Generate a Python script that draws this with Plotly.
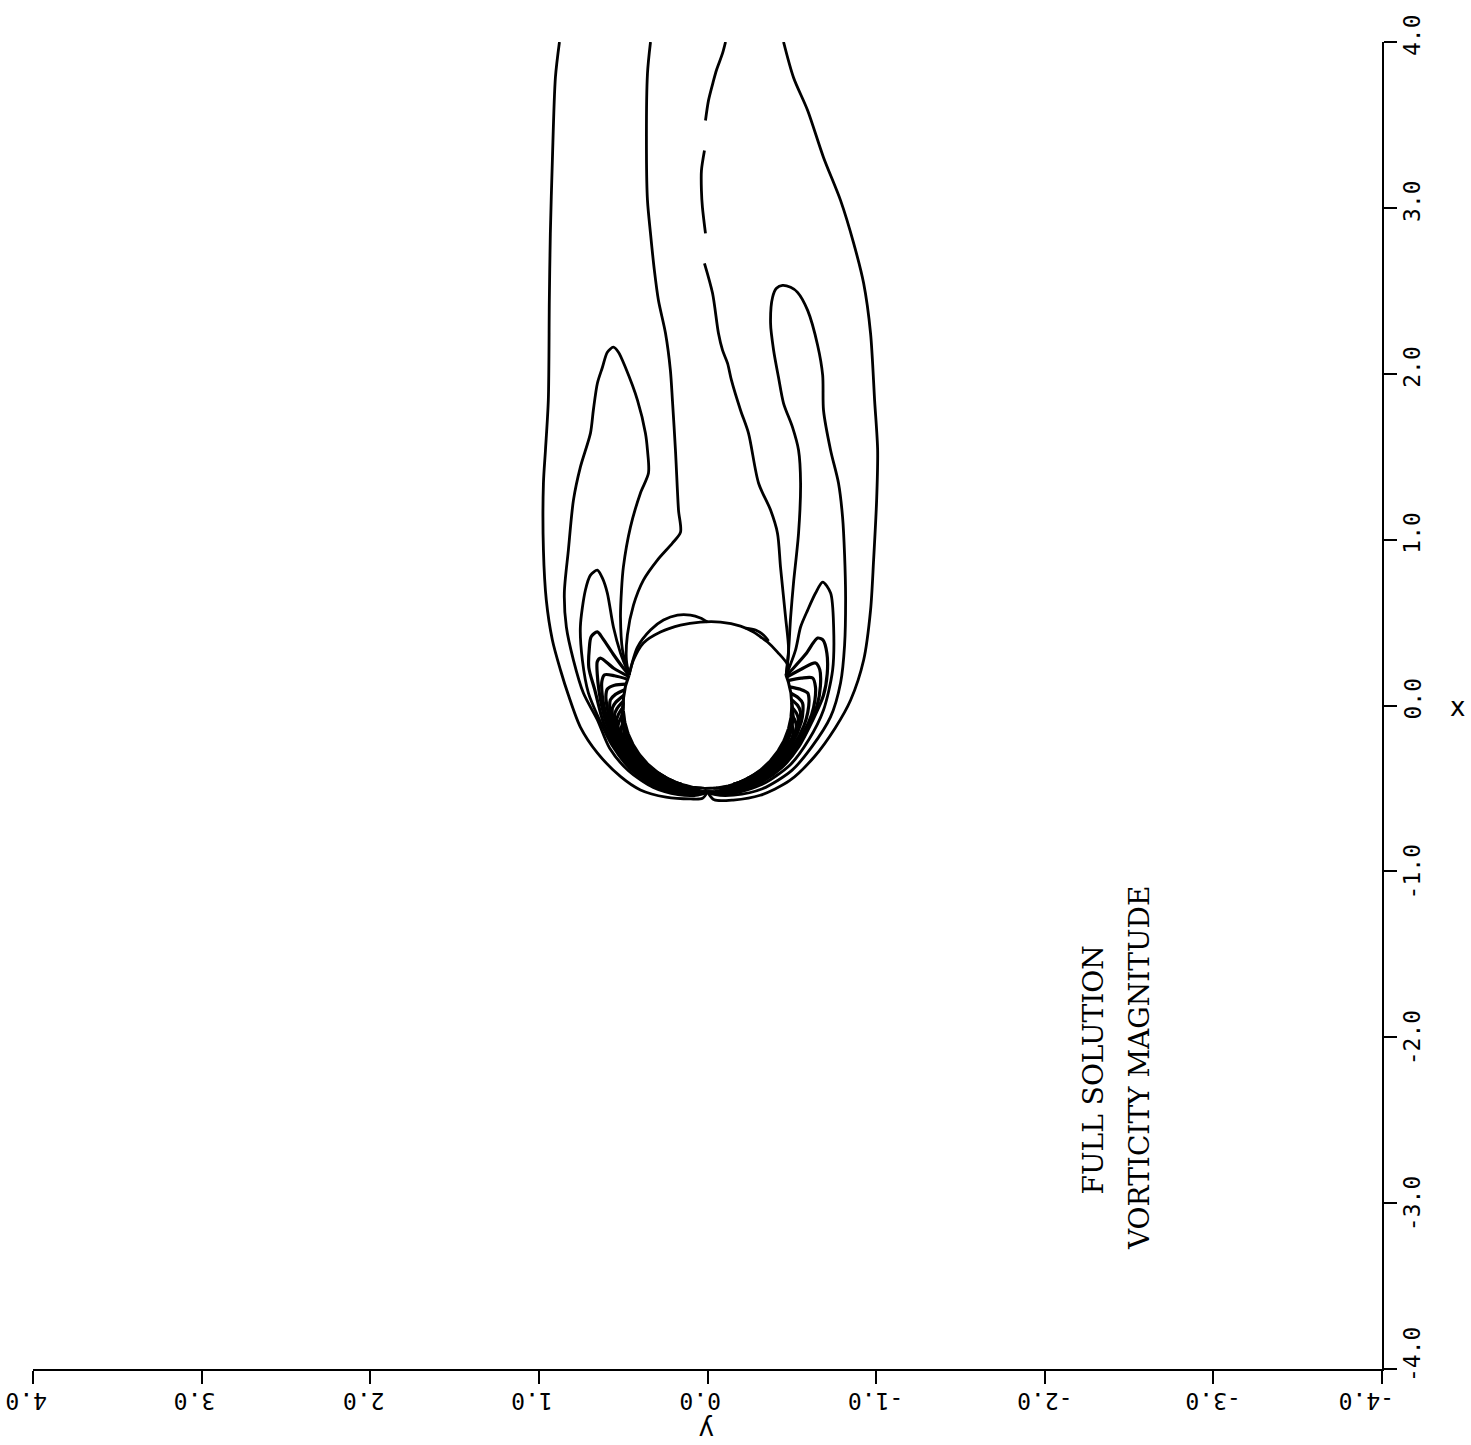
import numpy as np
import plotly.graph_objects as go

# ---------------------------------------------------------------
# Axis ticks (x runs up the right edge, y runs along the bottom)
# ---------------------------------------------------------------
tick_vals = [-4.0, -3.0, -2.0, -1.0, 0.0, 1.0, 2.0, 3.0, 4.0]
tick_text = ["-4.0", "-3.0", "-2.0", "-1.0", "0.0", "1.0", "2.0", "3.0", "4.0"]

body_radius = 0.5

# separation points on the body surface (y, x)
sep_left = (0.465, 0.184)
sep_right = (-0.466, 0.180)

# ---------------------------------------------------------------
# Wake contours, cartesian (y, x)
# ---------------------------------------------------------------
# outermost contour, left branch (wake part)
outer_left_y = [0.878, 0.902, 0.920, 0.932, 0.938, 0.944, 0.961, 0.973, 0.973, 0.956, 0.920, 0.872, 0.825, 0.754]
outer_left_x = [4.0, 3.786, 3.286, 2.846, 2.443, 1.840, 1.539, 1.340, 0.937, 0.636, 0.395, 0.214, 0.063, -0.130]
outer_left_phi = [-23.6, -40.0, -52.0, -66.0, -80.0, -87.0, -90.0]
outer_left_r = [0.713, 0.670, 0.646, 0.605, 0.572, 0.560, 0.521]

# outermost contour, right branch (front part then wake part)
outer_right_phi = [-90.0, -86.0, -75.0, -60.0, -43.0, -26.0, -10.0]
outer_right_r = [0.521, 0.570, 0.590, 0.625, 0.665, 0.705, 0.770]
outer_right_y = [-0.849, -0.926, -0.967, -0.985, -1.003, -1.009, -0.991, -0.967, -0.926, -0.867, -0.789, -0.688, -0.594, -0.510, -0.451]
outer_right_x = [0.033, 0.274, 0.575, 0.876, 1.238, 1.539, 1.840, 2.244, 2.545, 2.786, 3.045, 3.304, 3.587, 3.786, 4.0]

# second contour from the left, ends at the left separation point
inner_left_y = [0.338, 0.356, 0.362, 0.356, 0.338, 0.315, 0.291, 0.249, 0.220, 0.208, 0.190, 0.172, 0.160, 0.208, 0.297, 0.380, 0.439, 0.475, 0.481, 0.465]
inner_left_x = [4.0, 3.810, 3.328, 3.045, 2.846, 2.623, 2.443, 2.244, 2.021, 1.840, 1.539, 1.178, 1.045, 0.979, 0.877, 0.756, 0.605, 0.425, 0.274, 0.184]

# centre-line contour, drawn in three pieces
centre_a_y = [-0.107, -0.089, -0.053, -0.036, -0.006, 0.012]
centre_a_x = [4.0, 3.931, 3.830, 3.768, 3.648, 3.527]
centre_b_y = [0.018, 0.036, 0.036, 0.030, 0.012]
centre_b_x = [3.346, 3.225, 3.105, 3.003, 2.846]
centre_c_y = [0.018, -0.030, -0.065, -0.089, -0.119, -0.142, -0.196, -0.243, -0.303, -0.374, -0.415, -0.433, -0.463, -0.481, -0.466]
centre_c_x = [2.666, 2.485, 2.244, 2.142, 2.063, 1.961, 1.780, 1.642, 1.340, 1.178, 1.039, 0.834, 0.533, 0.334, 0.180]

# large left lobe
lobe_left_y = [0.465, 0.504, 0.516, 0.510, 0.499, 0.457, 0.398, 0.350, 0.356, 0.368, 0.415, 0.487, 0.528, 0.558,
               0.594, 0.623, 0.653, 0.677, 0.694, 0.754, 0.795, 0.825, 0.849, 0.837, 0.795, 0.736, 0.653]
lobe_left_x = [0.184, 0.334, 0.533, 0.696, 0.834, 1.075, 1.280, 1.401, 1.539, 1.642, 1.840, 2.039, 2.130, 2.160,
               2.130, 2.039, 1.943, 1.780, 1.642, 1.437, 1.238, 0.937, 0.678, 0.473, 0.274, 0.075, -0.087]
lobe_left_phi = [-24.0, -40.0, -57.0, -72.0, -84.0, -90.0]
lobe_left_r = [0.635, 0.612, 0.590, 0.565, 0.543, 0.521]

# first small left lobe
small_left_y = [0.465, 0.516, 0.558, 0.594, 0.623, 0.653, 0.694, 0.724, 0.754, 0.742, 0.706, 0.639]
small_left_x = [0.184, 0.316, 0.473, 0.678, 0.768, 0.816, 0.786, 0.696, 0.473, 0.274, 0.075, -0.090]
small_left_phi = [-23.0, -40.0, -57.0, -72.0, -84.0, -90.0]
small_left_r = [0.615, 0.597, 0.580, 0.558, 0.538, 0.521]

# large right lobe
lobe_right_y = [-0.466, -0.481, -0.493, -0.510, -0.540, -0.552, -0.540, -0.504, -0.451, -0.421, -0.392, -0.374, -0.386, -0.409,
                -0.445, -0.493, -0.534, -0.594, -0.653, -0.683, -0.688, -0.730, -0.777, -0.801, -0.813, -0.819, -0.813, -0.789]
lobe_right_x = [0.180, 0.334, 0.533, 0.738, 1.039, 1.340, 1.539, 1.678, 1.822, 1.979, 2.142, 2.304, 2.461, 2.515,
                2.533, 2.521, 2.491, 2.382, 2.172, 1.991, 1.780, 1.539, 1.340, 1.136, 0.907, 0.654, 0.364, 0.136]
lobe_right_phi = [-5.4, -22.0, -38.0, -57.0, -74.0, -85.0, -90.0]
lobe_right_r = [0.733, 0.667, 0.635, 0.598, 0.562, 0.540, 0.521]

# first small right lobe
small_right_y = [-0.466, -0.522, -0.552, -0.594, -0.641, -0.683, -0.730, -0.748, -0.742, -0.688]
small_right_x = [0.180, 0.334, 0.473, 0.575, 0.678, 0.744, 0.678, 0.473, 0.214, -0.027]
small_right_phi = [-19.0, -36.0, -56.0, -75.0, -86.0, -90.0]
small_right_r = [0.635, 0.607, 0.575, 0.550, 0.533, 0.521]

# contours over the rear of the body
rear_y = [0.465, 0.439, 0.380, 0.279, 0.160, 0.042, -0.077, -0.196, -0.273, -0.315, -0.356, -0.415, -0.475, -0.466]
rear_x = [0.184, 0.274, 0.377, 0.443, 0.485, 0.503, 0.503, 0.479, 0.443, 0.413, 0.383, 0.322, 0.244, 0.180]
rear_bulge_y = [0.465, 0.415, 0.338, 0.261, 0.178, 0.101, 0.042, 0.0]
rear_bulge_x = [0.184, 0.352, 0.455, 0.515, 0.545, 0.545, 0.527, 0.503]
rear_blip_y = [-0.226, -0.285, -0.332, -0.362]
rear_blip_x = [0.467, 0.455, 0.425, 0.389]

# ---------------------------------------------------------------
# Near-wall arches, polar about the body centre:
# phi in degrees from the y axis towards +x, r in body units
# ---------------------------------------------------------------
arches_left = [
    ([21.6, 25, 29, 33, 34.2, 31, 26, 18, 8, -10, -25, -40, -55, -70, -82, -90],
     [0.5, 0.56, 0.64, 0.74, 0.79, 0.805, 0.78, 0.74, 0.675, 0.625, 0.60, 0.585, 0.57, 0.552, 0.535, 0.521]),
    ([20.5, 22, 24.2, 22, 16, 8, 0, -10, -25, -40, -55, -70, -82, -90],
     [0.5, 0.6, 0.696, 0.705, 0.68, 0.65, 0.628, 0.61, 0.588, 0.573, 0.56, 0.545, 0.531, 0.521]),
    ([18.5, 18, 16.8, 13, 6, -2, -10, -25, -40, -55, -70, -82, -90],
     [0.5, 0.58, 0.638, 0.643, 0.628, 0.61, 0.597, 0.577, 0.563, 0.551, 0.538, 0.527, 0.521]),
    ([15, 12.5, 9.5, 5, -2, -10, -25, -40, -55, -70, -82, -90],
     [0.5, 0.565, 0.602, 0.605, 0.594, 0.585, 0.567, 0.554, 0.543, 0.532, 0.524, 0.521]),
    ([11, 7, 3.3, -2, -10, -25, -40, -55, -70, -82, -90],
     [0.5, 0.55, 0.577, 0.58, 0.574, 0.557, 0.545, 0.535, 0.527, 0.522, 0.521]),
    ([7, 2, -1.5, -6, -12, -25, -40, -55, -70, -85],
     [0.5, 0.545, 0.564, 0.567, 0.563, 0.548, 0.537, 0.528, 0.52, 0.512]),
    ([3, -2, -5.9, -10, -16, -25, -40, -55, -70, -80],
     [0.5, 0.537, 0.555, 0.556, 0.552, 0.540, 0.530, 0.521, 0.513, 0.505]),
    ([-1, -6, -9.8, -14, -20, -28, -40, -55, -68, -76],
     [0.5, 0.532, 0.548, 0.549, 0.545, 0.535, 0.523, 0.514, 0.507, 0.501]),
    ([-5, -10, -13, -17, -23, -30, -40, -52, -64, -72],
     [0.5, 0.53, 0.545, 0.546, 0.541, 0.53, 0.517, 0.508, 0.503, 0.5]),
    ([-9, -14, -17, -21, -27, -35, -45, -57, -66],
     [0.5, 0.525, 0.539, 0.54, 0.533, 0.521, 0.51, 0.503, 0.5]),
    ([-13, -18, -21, -25, -31, -40, -50, -60],
     [0.5, 0.522, 0.534, 0.535, 0.527, 0.514, 0.505, 0.5]),
    # wall-hugging levels of the thin front layer
    ([2, -8, -20, -35, -50, -65, -78, -86],
     [0.5, 0.512, 0.52, 0.522, 0.52, 0.514, 0.507, 0.5]),
    ([-4, -14, -28, -44, -60, -72],
     [0.5, 0.508, 0.512, 0.512, 0.507, 0.5]),
]

arches_right = [
    ([21.1, 24, 28, 31.9, 30, 24, 15, 5, -8, -25, -40, -55, -70, -82, -90],
     [0.5, 0.56, 0.66, 0.769, 0.79, 0.775, 0.735, 0.69, 0.63, 0.595, 0.578, 0.562, 0.546, 0.531, 0.521]),
    ([20, 21.5, 21.8, 18, 10, 0, -10, -25, -40, -55, -70, -82, -90],
     [0.5, 0.6, 0.69, 0.7, 0.68, 0.65, 0.615, 0.583, 0.567, 0.553, 0.54, 0.528, 0.521]),
    ([17.5, 16.5, 14.9, 10, 3, -5, -15, -25, -40, -55, -70, -82, -90],
     [0.5, 0.58, 0.645, 0.65, 0.638, 0.62, 0.595, 0.575, 0.558, 0.546, 0.534, 0.525, 0.521]),
    ([13, 10, 7.2, 3, -4, -12, -25, -40, -55, -70, -85],
     [0.5, 0.56, 0.599, 0.603, 0.596, 0.585, 0.565, 0.55, 0.538, 0.528, 0.521]),
    ([8.5, 5, 1.5, -3, -10, -25, -40, -55, -70, -82],
     [0.5, 0.54, 0.564, 0.567, 0.565, 0.552, 0.54, 0.53, 0.521, 0.512]),
    ([4, 0, -4, -9, -15, -25, -40, -55, -70, -80],
     [0.5, 0.535, 0.553, 0.555, 0.551, 0.543, 0.531, 0.52, 0.51, 0.503]),
    ([-1, -5, -9.2, -14, -22, -32, -45, -60, -72],
     [0.5, 0.53, 0.547, 0.548, 0.542, 0.53, 0.516, 0.506, 0.5]),
    ([-6, -10, -14, -19, -26, -36, -48, -60, -68],
     [0.5, 0.528, 0.543, 0.544, 0.536, 0.522, 0.51, 0.503, 0.5]),
    ([-11, -15, -19, -23, -30, -40, -52, -62],
     [0.5, 0.524, 0.536, 0.537, 0.528, 0.514, 0.504, 0.5]),
    # wall-hugging levels of the thin front layer
    ([2, -8, -20, -35, -50, -65, -78, -86],
     [0.5, 0.512, 0.52, 0.522, 0.52, 0.514, 0.507, 0.5]),
    ([-4, -14, -28, -44, -60, -72],
     [0.5, 0.508, 0.512, 0.512, 0.507, 0.5]),
]


def wall_to_xy(phi_deg, r, side):
    """Polar wall coordinates -> (y, x); side=+1 on the y>0 half, -1 on the y<0 half."""
    t = np.radians(np.asarray(phi_deg, dtype=float))
    r = np.asarray(r, dtype=float)
    return side * r * np.cos(t), r * np.sin(t)


LINE = dict(color="black", width=2.8, shape="spline", smoothing=0.8)
WALL_LINE = dict(color="black", width=3.2, shape="spline", smoothing=0.8)
fig = go.Figure()


def add_curve(yv, xv, line=LINE):
    fig.add_trace(go.Scatter(x=list(yv), y=list(xv), mode="lines", line=line,
                             hoverinfo="skip", showlegend=False))


# outermost contour
fy, fx = wall_to_xy(outer_left_phi, outer_left_r, 1)
add_curve(np.concatenate([outer_left_y, fy]), np.concatenate([outer_left_x, fx]))
fy, fx = wall_to_xy(outer_right_phi, outer_right_r, -1)
add_curve(np.concatenate([fy, outer_right_y]), np.concatenate([fx, outer_right_x]))

# wake contours
add_curve(inner_left_y, inner_left_x)
add_curve(centre_a_y, centre_a_x)
add_curve(centre_b_y, centre_b_x)
add_curve(centre_c_y, centre_c_x)

for wy, wx, ph, rr, side in [
    (lobe_left_y, lobe_left_x, lobe_left_phi, lobe_left_r, 1),
    (small_left_y, small_left_x, small_left_phi, small_left_r, 1),
    (lobe_right_y, lobe_right_x, lobe_right_phi, lobe_right_r, -1),
    (small_right_y, small_right_x, small_right_phi, small_right_r, -1),
]:
    fy, fx = wall_to_xy(ph, rr, side)
    add_curve(np.concatenate([wy, fy]), np.concatenate([wx, fx]))

# near-wall arches
for ph, rr in arches_left:
    add_curve(*wall_to_xy(ph, rr, 1), line=WALL_LINE)
for ph, rr in arches_right:
    add_curve(*wall_to_xy(ph, rr, -1), line=WALL_LINE)

# rear contours
add_curve(rear_y, rear_x)
add_curve(rear_bulge_y, rear_bulge_x)
add_curve(rear_blip_y, rear_blip_x)

# body surface, front arc between the separation points
psi = np.radians(np.linspace(np.degrees(np.arctan2(sep_left[1], sep_left[0])),
                             np.degrees(np.arctan2(sep_right[1], sep_right[0])) - 360.0, 240))
add_curve(body_radius * np.cos(psi), body_radius * np.sin(psi),
          line=dict(color="black", width=3.0))

# ---------------------------------------------------------------
# Axes: L-shaped frame, bottom (y, reversed) and right (x)
# ---------------------------------------------------------------
axis_common = dict(
    tickmode="array", tickvals=tick_vals, showticklabels=False,
    ticks="outside", ticklen=13, tickwidth=2, tickcolor="black",
    showline=True, linewidth=2, linecolor="black",
    showgrid=False, zeroline=False, fixedrange=True,
)

# plot-area pixel geometry used to place the rotated labels
W, H = 1471, 1445
ML, MR, MT, MB = 33, 89, 42, 76
PW, PH = W - ML - MR, H - MT - MB

tick_font = dict(family="DejaVu Sans Mono", size=23, color="black")


def label_offset(v):
    """Pixel offset of a tick label along its axis (unsigned labels sit half a
    character off the tick, the corner labels are pushed clear of the corner)."""
    if v <= -4.0:
        return 15
    return 7 if v >= 0 else 0


annotations = []
for v, t in zip(tick_vals, tick_text):
    off = label_offset(v)
    # right-hand axis (x): text reads bottom-to-top
    annotations.append(dict(
        text=t, xref="paper", yref="paper",
        x=(1412 - ML) / PW, y=(v + 4.0) / 8.0 + off / PH,
        textangle=-90, showarrow=False, xanchor="center", yanchor="middle", font=tick_font))
    # bottom axis (y, reversed): text turned upside down
    annotations.append(dict(
        text=t, xref="paper", yref="paper",
        x=(4.0 - v) / 8.0 - off / PW, y=-(1401 - (H - MB)) / PH,
        textangle=180, showarrow=False, xanchor="center", yanchor="middle", font=tick_font))

annotations += [
    dict(text="x", xref="paper", yref="paper", x=(1457 - ML) / PW, y=((H - MB) - 707) / PH,
         showarrow=False, xanchor="center", yanchor="middle",
         font=dict(family="DejaVu Sans", size=26, color="black")),
    dict(text="y", xref="paper", yref="paper", x=(707 - ML) / PW, y=-(1430 - (H - MB)) / PH,
         textangle=180, showarrow=False, xanchor="center", yanchor="middle",
         font=dict(family="DejaVu Sans", size=26, color="black")),
    dict(text="FULL SOLUTION", xref="x", yref="y", x=-2.29, y=-2.196, showarrow=False,
         textangle=-90, xanchor="center", yanchor="middle",
         font=dict(family="DejaVu Serif", size=28, color="black")),
    dict(text="VORTICITY MAGNITUDE", xref="x", yref="y", x=-2.558, y=-2.181, showarrow=False,
         textangle=-90, xanchor="center", yanchor="middle",
         font=dict(family="DejaVu Serif", size=28, color="black")),
]

fig.update_layout(
    width=W, height=H,
    margin=dict(l=ML, r=MR, t=MT, b=MB),
    paper_bgcolor="white", plot_bgcolor="white",
    showlegend=False,
    xaxis=dict(range=[4.0, -4.0], side="bottom", **axis_common),
    yaxis=dict(range=[-4.0, 4.0], side="right", **axis_common),
    annotations=annotations,
)

fig.write_html("out.html", config={"displayModeBar": False})
